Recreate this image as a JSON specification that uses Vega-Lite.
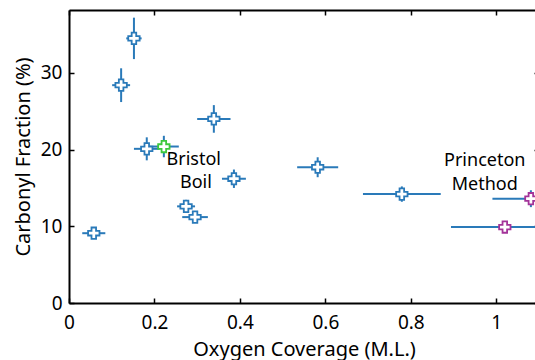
{
  "$schema": "https://vega.github.io/schema/vega-lite/v6.json",
  "autosize": "none",
  "width": 470,
  "height": 293,
  "padding": {"left": 69, "top": 10, "right": 0, "bottom": 57},
  "background": "white",
  "config": {
    "font": "Noto Sans",
    "view": {"stroke": null},
    "axis": {"grid": false, "domainColor": "black", "domainWidth": 2, "tickColor": "black", "tickWidth": 1.5, "labelFont": "Noto Sans", "titleFont": "Noto Sans", "labelFontSize": 19, "titleFontSize": 20, "titleFontWeight": "normal", "labelColor": "black", "titleColor": "black"}
  },
  "datasets": {
    "pts": [
      {"x": 0.152, "y": 34.5, "xlo": 0.134, "xhi": 0.170, "ylo": 31.8, "yhi": 37.2, "group": "data"},
      {"x": 0.122, "y": 28.4, "xlo": 0.101, "xhi": 0.143, "ylo": 26.2, "yhi": 30.6, "group": "data"},
      {"x": 0.339, "y": 24.0, "xlo": 0.300, "xhi": 0.378, "ylo": 22.2, "yhi": 25.8, "group": "data"},
      {"x": 0.182, "y": 20.1, "xlo": 0.152, "xhi": 0.212, "ylo": 18.6, "yhi": 21.6, "group": "data"},
      {"x": 0.222, "y": 20.4, "xlo": 0.187, "xhi": 0.257, "ylo": 19.0, "yhi": 21.8, "group": "bristol"},
      {"x": 0.386, "y": 16.2, "xlo": 0.358, "xhi": 0.414, "ylo": 15.0, "yhi": 17.4, "group": "data"},
      {"x": 0.274, "y": 12.6, "xlo": 0.253, "xhi": 0.295, "ylo": 11.75, "yhi": 13.45, "group": "data"},
      {"x": 0.295, "y": 11.2, "xlo": 0.265, "xhi": 0.325, "ylo": 10.5, "yhi": 11.9, "group": "data"},
      {"x": 0.058, "y": 9.1, "xlo": 0.031, "xhi": 0.085, "ylo": 8.4, "yhi": 9.8, "group": "data"},
      {"x": 0.582, "y": 17.7, "xlo": 0.534, "xhi": 0.630, "ylo": 16.4, "yhi": 19.0, "group": "data"},
      {"x": 0.779, "y": 14.2, "xlo": 0.688, "xhi": 0.870, "ylo": 13.2, "yhi": 15.2, "group": "data"},
      {"x": 1.081, "y": 13.6, "xlo": 0.991, "xhi": 1.171, "ylo": 12.5, "yhi": 14.7, "group": "princeton"},
      {"x": 1.020, "y": 9.9, "xlo": 0.894, "xhi": 1.146, "ylo": 9.3, "yhi": 10.5, "group": "princeton"}
    ],
    "labels": [
      {"x": 0.292, "y": 18.7, "text": "Bristol"},
      {"x": 0.297, "y": 15.6, "text": "Boil"},
      {"x": 0.973, "y": 18.5, "text": "Princeton"},
      {"x": 0.973, "y": 15.4, "text": "Method"}
    ]
  },
  "layer": [
    {
      "data": {"name": "pts"},
      "mark": {"type": "rule", "color": "#2a7ab9", "strokeWidth": 2, "clip": true},
      "encoding": {
        "x": {"field": "xlo", "type": "quantitative", "scale": {"domain": [0, 1.1], "nice": false}, "axis": {"orient": "bottom", "values": [0, 0.2, 0.4, 0.6, 0.8, 1], "format": "~g", "tickSize": -5, "labelPadding": 15, "title": "Oxygen Coverage (M.L.)", "titlePadding": 7, "labelFlush": false}},
        "x2": {"field": "xhi"},
        "y": {"field": "y", "type": "quantitative", "scale": {"domain": [0, 38.2], "nice": false}, "axis": {"orient": "left", "values": [0, 10, 20, 30], "tickSize": -5, "labelPadding": 12, "title": "Carbonyl Fraction (%)", "titlePadding": 7, "labelFlush": false}}
      }
    },
    {
      "data": {"name": "pts"},
      "mark": {"type": "rule", "color": "#2a7ab9", "strokeWidth": 2, "clip": true},
      "encoding": {
        "x": {"field": "x", "type": "quantitative", "axis": {"orient": "top", "values": [0, 0.2, 0.4, 0.6, 0.8, 1], "tickSize": -5, "labels": false, "title": null}},
        "y": {"field": "ylo", "type": "quantitative", "axis": {"orient": "right", "values": [0, 10, 20, 30], "tickSize": -5, "labels": false, "title": null}},
        "y2": {"field": "yhi"}
      }
    },
    {
      "data": {"name": "pts"},
      "mark": {"type": "point", "shape": "cross", "filled": false, "fill": "white", "fillOpacity": 1, "strokeWidth": 1.8, "size": 130, "opacity": 1},
      "encoding": {
        "x": {"field": "x", "type": "quantitative", "axis": null},
        "y": {"field": "y", "type": "quantitative", "axis": null},
        "stroke": {"field": "group", "type": "nominal", "scale": {"domain": ["data", "bristol", "princeton"], "range": ["#2a7ab9", "#3cc83c", "#a33399"]}, "legend": null}
      }
    },
    {
      "data": {"name": "labels"},
      "mark": {"type": "text", "font": "Noto Sans", "fontSize": 18, "color": "black", "align": "center", "baseline": "middle"},
      "encoding": {
        "x": {"field": "x", "type": "quantitative", "axis": null},
        "y": {"field": "y", "type": "quantitative", "axis": null},
        "text": {"field": "text"}
      }
    }
  ],
  "resolve": {"axis": {"x": "independent", "y": "independent"}}
}
